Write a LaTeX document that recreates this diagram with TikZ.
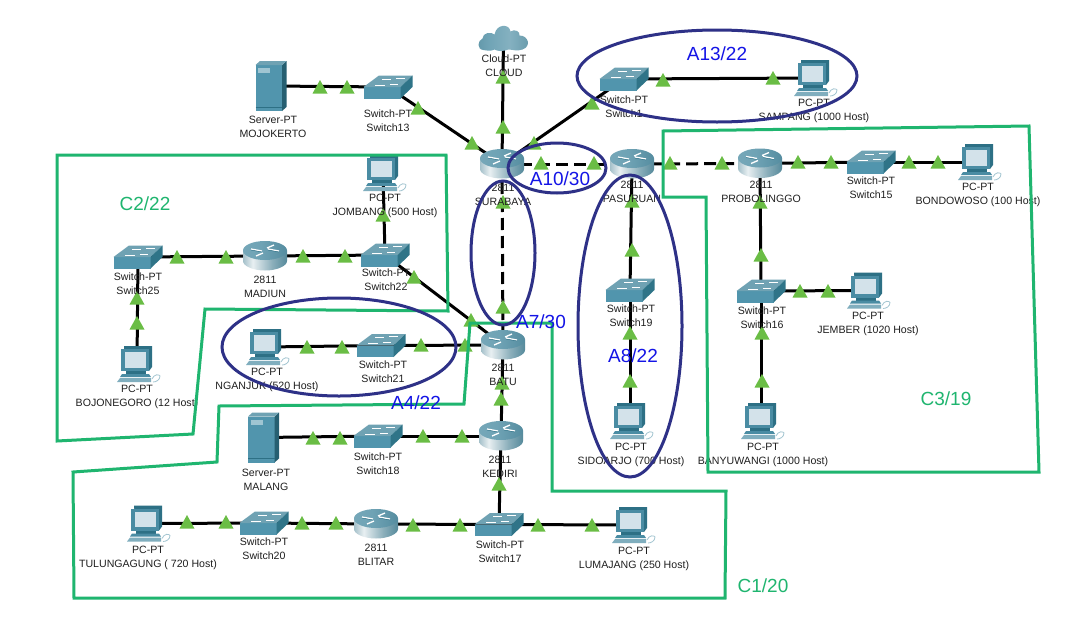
\documentclass[tikz,border=0pt]{standalone}
\usepackage{fontspec}
\setmainfont{Liberation Sans}
\usetikzlibrary{shapes.geometric}
\definecolor{rtop}{HTML}{6FA3B5}
\definecolor{rdark}{HTML}{3F7A8E}
\definecolor{swtop}{HTML}{6FA2B3}
\definecolor{swfront}{HTML}{5195AD}
\definecolor{swside}{HTML}{2F7488}
\definecolor{pcbody}{HTML}{4A8CA3}
\definecolor{pcdark}{HTML}{2D7085}
\definecolor{screenc}{HTML}{D3E2EA}
\definecolor{green1}{HTML}{6ABD45}
\definecolor{regionc}{HTML}{1FB56F}
\definecolor{ellc}{HTML}{2E3187}
\definecolor{labblue}{HTML}{1414E6}
\pgfdeclarehorizontalshading{routerbody}{100bp}{
  color(0bp)=(rdark); color(18bp)=(rdark!70!white); color(36bp)=(white!88!rdark);
  color(58bp)=(rdark!60!white); color(82bp)=(rdark); color(100bp)=(rdark!85!black)}
\pgfdeclarehorizontalshading{routertop}{100bp}{
  color(0bp)=(rtop!90!white); color(45bp)=(rtop); color(100bp)=(rdark)}
\pgfdeclarehorizontalshading{cloudshade}{100bp}{
  color(0bp)=(rdark); color(35bp)=(rtop); color(55bp)=(rtop!85!white); color(100bp)=(rdark)}
\tikzset{
  x=1pt,y=-1pt,
  dev/.style={inner sep=0pt,minimum size=4pt},
  lnk/.style={line width=3pt,black},
  dlnk/.style={lnk,dash pattern=on 12pt off 6pt},
  lab/.style={font=\fontsize{10.6}{14}\selectfont,align=center,inner sep=0pt,text=black!88},
  region/.style={draw=regionc,line width=3pt,line join=miter},
  ell/.style={draw=ellc,line width=3pt},
  areab/.style={font=\fontsize{19}{22}\selectfont,text=labblue,inner sep=0pt},
  areag/.style={font=\fontsize{19}{22}\selectfont,text=regionc,inner sep=0pt},
  router/.pic={
    \shade[shading=routerbody] (-22,-5.5) -- (-22,5) .. controls (-22,10) and (-12,14.5) .. (0,14.5) .. controls (12,14.5) and (22,10) .. (22,5) -- (22,-5.5) -- cycle;
    \shade[shading=routertop] (0,-5.5) ellipse[x radius=22,y radius=9.5];
    \draw[white,line width=1.3pt] (-14,-7)--(-3,-5) (14,-5)--(3,-7) (-9,0)--(-2,-3) (9,-11)--(2,-8);
    \draw[pcdark,line width=.4pt] (-14,-6)--(-3,-4) (14,-4)--(3,-6);
  },
  switch/.pic={
    \fill[swfront] (-24.5,0) rectangle (12.5,11.5);
    \fill[swtop] (-24.5,0)--(-9,-11.5)--(24.5,-11.5)--(12.5,0)--cycle;
    \fill[swside] (12.5,0)--(24.5,-11.5)--(24.5,0)--(12.5,11.5)--cycle;
    \draw[white,line width=.6pt] (-13,-2)--(-3,-2) (-6,-8)--(3,-8) (2,-3)--(10,-3) (8,-9)--(17,-9);
  },
  pcicon/.pic={
    \fill[pcdark] (-13,-18)--(15,-18)--(15,3)--(12,7)--(-13,-15)--cycle;
    \fill[pcbody] (-16,-15) rectangle (12,7);
    \fill[screenc] (-12.5,-12) rectangle (8.5,3.5);
    \fill[pcdark] (-11,7) rectangle (9,10);
    \fill[pcbody] (-15,10) -- (12,10) -- (14,13) -- (-17,13) -- cycle;
    \fill[pcbody!70!white] (-17,14) -- (14,14) -- (14,18) -- (-20,18) -- cycle;
    \draw[pcbody!50!white,line width=.8pt] (15,15) .. controls (17,10) and (22,10) .. (23,12) .. controls (23,16) and (19,18) .. (16,18);
  },
  servericon/.pic={
    \fill[swfront] (-15.5,-21) rectangle (11,25);
    \fill[pcdark!85!black] (11,-21) -- (15.5,-25) -- (15.5,21) -- (11,25) -- cycle;
    \fill[swtop] (-15.5,-21) -- (-11,-25) -- (15.5,-25) -- (11,-21) -- cycle;
    \fill[white!45!swfront] (-13,-18) rectangle (-1,-13);
    \draw[pcdark,line width=.5pt] (-15.5,21) -- (11,21);
  },
  cloudicon/.pic={
    \shade[shading=cloudshade]
      (-20,12.5) .. controls (-27,12) and (-26,3) .. (-21,1)
      .. controls (-21,-5) and (-12,-6) .. (-9,-3)
      .. controls (-7,-14) and (6,-14) .. (7,-6)
      .. controls (11,-9) and (17,-6) .. (16,-2)
      .. controls (25,-2) and (28,9) .. (19,12)
      .. controls (14,14) and (8,12) .. (5,12)
      .. controls (0,14) and (-6,14) .. (-9,12)
      .. controls (-13,14) and (-17,13) .. (-20,12.5) -- cycle;
  },
}
\begin{document}
\begin{tikzpicture}
\useasboundingbox (0,0) rectangle (1084,624);
\fill[white] (0,0) rectangle (1084,624);
% device anchors
\node[dev] (cloud) at (503.5,37.5) {};
\node[dev] (mojo) at (271,86) {};
\node[dev] (sw13) at (388,87) {};
\node[dev] (sby) at (502,164) {};
\node[dev] (sw1) at (624,79) {};
\node[dev] (samp) at (814,78) {};
\node[dev] (pas) at (632,164) {};
\node[dev] (prob) at (760,163.5) {};
\node[dev] (sw15) at (871,162) {};
\node[dev] (bond) at (978,162) {};
\node[dev] (sw16) at (761,291) {};
\node[dev] (jem) at (867,290.5) {};
\node[dev] (ban) at (761,421) {};
\node[dev] (jomb) at (383,173) {};
\node[dev] (sw22) at (385,255) {};
\node[dev] (mad) at (265,256) {};
\node[dev] (sw25) at (138,257) {};
\node[dev] (bojo) at (137,364) {};
\node[dev] (ngj) at (266,347) {};
\node[dev] (sw21) at (381,345.5) {};
\node[dev] (batu) at (503,345) {};
\node[dev] (ked) at (501,436) {};
\node[dev] (sw18) at (378,436) {};
\node[dev] (mal) at (263.5,437.5) {};
\node[dev] (sw17) at (499,524.5) {};
\node[dev] (bli) at (376,524) {};
\node[dev] (sw20) at (264,523) {};
\node[dev] (tul) at (147,523.5) {};
\node[dev] (lum) at (632,525) {};
\node[dev] (sw19) at (630,290) {};
\node[dev] (sid) at (630,421) {};
% connectors
\foreach \a/\b in {cloud/sby,mojo/sw13,sw13/sby,sw1/sby,sw1/samp,prob/sw15,sw15/bond,prob/sw16,sw16/jem,sw16/ban,pas/sw19,sw19/sid,jomb/sw22,sw22/mad,mad/sw25,sw25/bojo,sw22/batu,ngj/sw21,sw21/batu,batu/ked,ked/sw18,sw18/mal,ked/sw17,sw17/bli,bli/sw20,sw20/tul,sw17/lum}
  \draw[lnk] (\a.center) -- (\b.center);
\foreach \a/\b in {sby/pas,pas/prob,sby/batu}
  \draw[dlnk] (\a.center) -- (\b.center);
% link lights
\foreach \x/\y in {503/77,503/127,320/87,347/87,418/108,472/143,592/103,534/143,663/80,773/78,541/163,594/163,670/163,722/163,798/162,831/162,909/162,938/162,760/202,761/255,800/291,828/291,762/333,762/381,503/202,503/307,632/201,632/250,630/333,630/381,383/215,303/256,345/256,177/257,226/257,137/298,137/323,414/277,471/320,307/347,342/347,421/345,465/345,502/383,501/399,313/438,340/438,423/436,462/436,499/484,413/525,460/525,302/523,336/523,187/522,226/522,538/525,592/525}
  \fill[green1] (\x-7.5,\y+6.5) -- (\x,\y-7) -- (\x+7.5,\y+6.5) -- cycle;
% icons
\pic at (cloud) {cloudicon};
\foreach \n in {mojo,mal} \pic at (\n) {servericon};
\foreach \n in {sby,pas,prob,mad,batu,ked,bli} \pic at (\n) {router};
\foreach \n in {sw13,sw1,sw15,sw16,sw22,sw25,sw21,sw18,sw17,sw20,sw19} \pic at (\n) {switch};
\foreach \n in {samp,bond,jem,ban,jomb,bojo,ngj,tul,lum,sid} \pic at (\n) {pcicon};
% labels
\node[lab] (lcloud) at (504,66) {Cloud-PT\\CLOUD};
\node[lab] (lmojo) at (273,127) {Server-PT\\MOJOKERTO};
\node[lab] (lsw13) at (388,121) {Switch-PT\\Switch13};
\node[lab] (lsby) at (503,195) {2811\\SURABAYA};
\node[lab] (lsw1) at (624,107) {Switch-PT\\Switch1};
\node[lab] (lsamp) at (814,111) {PC-PT\\SAMPANG (1000 Host)};
\node[lab] (lpas) at (632,192) {2811\\PASURUAN};
\node[lab] (lprob) at (761,192) {2811\\PROBOLINGGO};
\node[lab] (lsw15) at (871,188) {Switch-PT\\Switch15};
\node[lab] (lbond) at (978,195) {PC-PT\\BONDOWOSO (100 Host)};
\node[lab] (lsw16) at (762,318) {Switch-PT\\Switch16};
\node[lab] (ljem) at (868,324) {PC-PT\\JEMBER (1020 Host)};
\node[lab] (lban) at (763,455) {PC-PT\\BANYUWANGI (1000 Host)};
\node[lab] (ljomb) at (385,206) {PC-PT\\JOMBANG (500 Host)};
\node[lab] (lsw22) at (386,280) {Switch-PT\\Switch22};
\node[lab] (lmad) at (265,287) {2811\\MADIUN};
\node[lab] (lsw25) at (138,284) {Switch-PT\\Switch25};
\node[lab] (lbojo) at (137,397) {PC-PT\\BOJONEGORO (12 Host)};
\node[lab] (lngj) at (267,380) {PC-PT\\NGANJUK (520 Host)};
\node[lab] (lsw21) at (383,372) {Switch-PT\\Switch21};
\node[lab] (lbatu) at (503,375) {2811\\BATU};
\node[lab] (lked) at (500,467) {2811\\KEDIRI};
\node[lab] (lsw18) at (378,464) {Switch-PT\\Switch18};
\node[lab] (lmal) at (266,480) {Server-PT\\MALANG};
\node[lab] (lsw17) at (500,552) {Switch-PT\\Switch17};
\node[lab] (lbli) at (376,555) {2811\\BLITAR};
\node[lab] (lsw20) at (264,549) {Switch-PT\\Switch20};
\node[lab] (ltul) at (148,558) {PC-PT\\TULUNGAGUNG ( 720 Host)};
\node[lab] (llum) at (634,559) {PC-PT\\LUMAJANG (250 Host)};
\node[lab] (lsw19) at (631,316) {Switch-PT\\Switch19};
\node[lab] (lsid) at (631,455) {PC-PT\\SIDOARJO (700 Host)};
% regions
\draw[region] (57,155) -- (446,155) -- (448,311) -- (205,309) -- (193,434) -- (57,441) -- cycle;
\draw[region] (73,472) -- (217,462) -- (219,406) -- (464,404) -- (470,323) -- (552,323) -- (552,491) -- (726,491) -- (725,598) -- (74,598) -- cycle;
\draw[region] (663,131) -- (1029,126) -- (1039,472) -- (708,472) -- (706,197) -- (663,197) -- cycle;
% subnets
\draw[ell] (717,76) ellipse[x radius=140,y radius=46];
\draw[ell] (557,168) ellipse[x radius=49,y radius=25];
\draw[ell] (503,253) ellipse[x radius=32,y radius=72];
\draw[ell] (630,326) ellipse[x radius=52,y radius=151];
\draw[ell] (339,347) ellipse[x radius=117,y radius=49];
\node[areab] (a13) at (717,54) {A13/22};
\node[areab] (a10) at (560,179) {A10/30};
\node[areab] (a7) at (541,322) {A7/30};
\node[areab] (a8) at (633,356) {A8/22};
\node[areab] (a4) at (416,403) {A4/22};
\node[areag] (c2) at (145,204) {C2/22};
\node[areag] (c3) at (946,399) {C3/19};
\node[areag] (c1) at (763,586) {C1/20};
\end{tikzpicture}
\end{document}
